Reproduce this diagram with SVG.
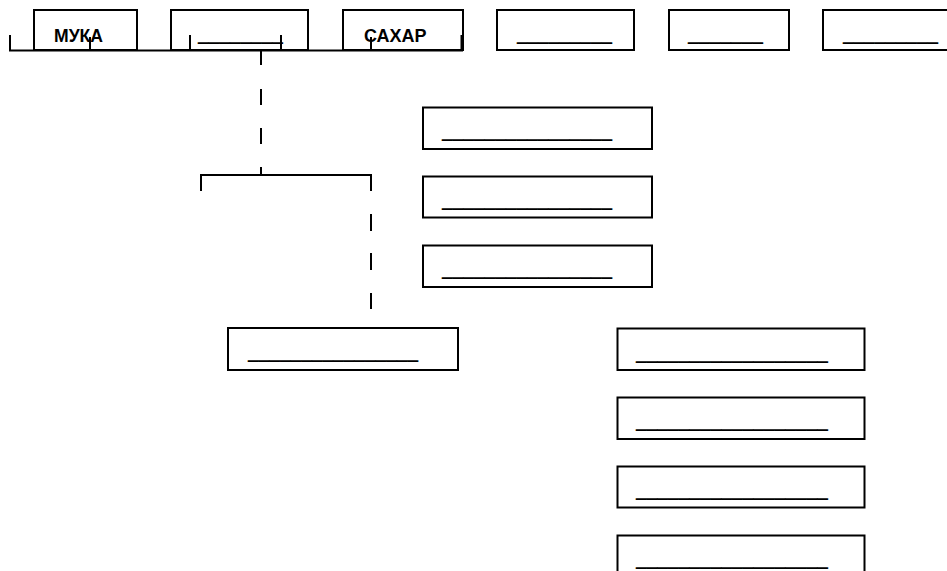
<svg xmlns="http://www.w3.org/2000/svg" width="947" height="571" viewBox="0 0 947 571">
<style>
.box{fill:#fff;stroke:#000;stroke-width:2}
.ln{stroke:#000;stroke-width:2;fill:none}
.lbl{font-family:"Liberation Sans",Arial,sans-serif;font-weight:bold;font-size:18px;fill:#000}
.us{font-family:"Liberation Sans",Arial,sans-serif;font-size:26px;fill:#000}
</style>
<rect width="947" height="571" fill="#fff"/>
<g id="node-muka"><rect class="box" x="34" y="10" width="103" height="40"/><text class="lbl" x="54" y="41.5" textLength="49" lengthAdjust="spacingAndGlyphs">МУКА</text></g>
<g id="node-top2"><rect class="box" x="171" y="10" width="137" height="40"/><text class="us" x="198" y="39" textLength="85" lengthAdjust="spacingAndGlyphs">________</text></g>
<g id="node-sahar"><rect class="box" x="343" y="10" width="120" height="40"/><text class="lbl" x="364" y="41.5">САХАР</text></g>
<g id="node-top4"><rect class="box" x="497" y="10" width="137" height="40"/><text class="us" x="517" y="39" textLength="95" lengthAdjust="spacingAndGlyphs">_________</text></g>
<g id="node-top5"><rect class="box" x="669" y="10" width="120" height="40"/><text class="us" x="688" y="39" textLength="75" lengthAdjust="spacingAndGlyphs">_______</text></g>
<g id="node-top6"><rect class="box" x="823" y="10" width="140" height="40"/><text class="us" x="843" y="39" textLength="95" lengthAdjust="spacingAndGlyphs">_________</text></g>
<g id="node-mid1"><rect class="box" x="423" y="107.5" width="229" height="41.5"/><text class="us" x="442" y="136" textLength="170" lengthAdjust="spacingAndGlyphs">________________</text></g>
<g id="node-mid2"><rect class="box" x="423" y="176.5" width="229" height="41"/><text class="us" x="442" y="205.3" textLength="170" lengthAdjust="spacingAndGlyphs">________________</text></g>
<g id="node-mid3"><rect class="box" x="423" y="245.5" width="229" height="41.5"/><text class="us" x="442" y="273.6" textLength="170" lengthAdjust="spacingAndGlyphs">________________</text></g>
<g id="node-left"><rect class="box" x="228" y="328" width="230" height="42"/><text class="us" x="248" y="357" textLength="170" lengthAdjust="spacingAndGlyphs">________________</text></g>
<g id="node-r1"><rect class="box" x="617.5" y="328.5" width="247" height="41.5"/><text class="us" x="636" y="357.6" textLength="192" lengthAdjust="spacingAndGlyphs">__________________</text></g>
<g id="node-r2"><rect class="box" x="617.5" y="397.5" width="247" height="41.5"/><text class="us" x="636" y="426.3" textLength="192" lengthAdjust="spacingAndGlyphs">__________________</text></g>
<g id="node-r3"><rect class="box" x="617.5" y="466.5" width="247" height="41"/><text class="us" x="636" y="495.3" textLength="192" lengthAdjust="spacingAndGlyphs">__________________</text></g>
<g id="node-r4"><rect class="box" x="617.5" y="535.5" width="247" height="41"/><text class="us" x="636" y="563.6" textLength="192" lengthAdjust="spacingAndGlyphs">__________________</text></g>
<g id="connectors">
<path class="ln" d="M10,35V50.5H463"/>
<path class="ln" d="M90,37V50M190,35V50M281,35V50M371,37V50"/>
<path d="M462,35V50" stroke="#000" stroke-width="3"/>
<path class="ln" d="M261,51V65M261,89V105M261,128V144M261,167V175"/>
<path class="ln" d="M201,191V175H371V191"/>
<path class="ln" d="M371,214V231M371,253V270M371,293V309"/>
</g>
</svg>
